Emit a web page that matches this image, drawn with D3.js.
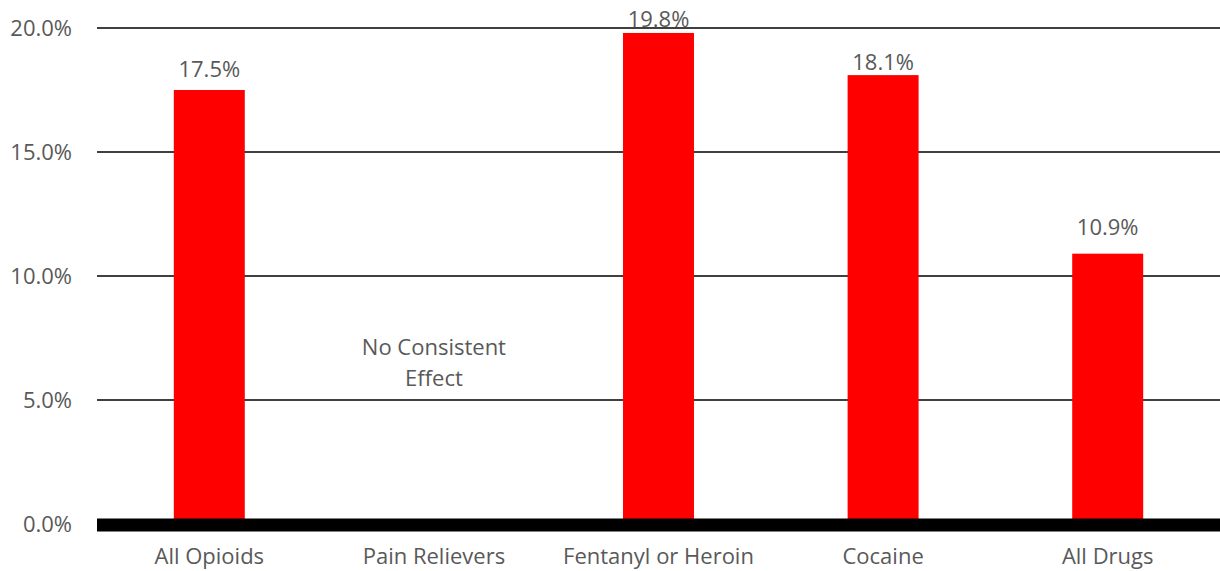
<!DOCTYPE html>
<html><head><meta charset="utf-8">
<script src="https://cdn.jsdelivr.net/npm/d3@7"></script>
<style>body{margin:0;background:#fff;} text{font-family:"Open Sans",sans-serif;}</style>
</head><body><svg id="c" width="1220" height="571"></svg>
<script>
const categories = ["All Opioids","Pain Relievers","Fentanyl or Heroin","Cocaine","All Drugs"];
const values = [17.5, null, 19.8, 18.1, 10.9];
const valueLabels = ["17.5%", "", "19.8%", "18.1%", "10.9%"];
const noteLines = ["No Consistent", "Effect"];
const yTicks = [0, 5, 10, 15, 20];

(function(){
const svg = d3.select("#c");
const mLeft = 97, mRight = 1220, mTop = 28, mBottom = 524;
const x = d3.scaleBand().domain(categories).range([mLeft, mRight]).padding(0);
const y = d3.scaleLinear().domain([0, 20]).range([mBottom, mTop]);
const barW = x.bandwidth() * 0.316;
const grey = "#595959";
const fs = 22;
// gap between each value label's baseline and its bar top (layout only)
const labelGap = [13, 0, 6, 5, 19];

svg.append("g").selectAll("line").data(yTicks.filter(d => d > 0)).join("line")
  .attr("x1", mLeft).attr("x2", mRight).attr("y1", d => y(d)).attr("y2", d => y(d))
  .attr("stroke", "#000").attr("stroke-width", 1.5);

const yAxis = d3.axisLeft(y).tickValues(yTicks).tickFormat(d => d3.format(".1f")(d) + "%").tickSize(0).tickPadding(25);
const gy = svg.append("g").attr("transform", `translate(${mLeft},0)`).call(yAxis);
gy.select(".domain").remove();
gy.selectAll("text").attr("fill", grey).style("font-size", fs + "px").style("font-family", '"Open Sans",sans-serif');

const data = categories.map((c, i) => ({c, v: values[i], l: valueLabels[i], g: labelGap[i]}));
svg.append("g").selectAll("rect").data(data.filter(d => d.v != null)).join("rect")
  .attr("x", d => x(d.c) + x.bandwidth() / 2 - barW / 2)
  .attr("width", barW)
  .attr("y", d => y(d.v)).attr("height", d => y(0) - y(d.v))
  .attr("fill", "#ff0000");

svg.append("g").selectAll("text").data(data.filter(d => d.v != null)).join("text")
  .attr("x", d => x(d.c) + x.bandwidth() / 2)
  .attr("y", d => y(d.v) - d.g)
  .attr("text-anchor", "middle").attr("fill", grey).style("font-size", fs + "px")
  .text(d => d.l);

svg.append("line").attr("x1", mLeft).attr("x2", mRight).attr("y1", y(0) + 1).attr("y2", y(0) + 1)
  .attr("stroke", "#000").attr("stroke-width", 13);

const xAxis = d3.axisBottom(x).tickSize(0).tickPadding(0);
const gx = svg.append("g").attr("transform", `translate(0,${mBottom})`).call(xAxis);
gx.select(".domain").remove();
gx.selectAll("text").attr("y", 40).attr("dy", 0).attr("fill", grey).style("font-size", fs + "px").style("font-family", '"Open Sans",sans-serif');

svg.append("g").selectAll("text").data(noteLines).join("text")
  .attr("x", x("Pain Relievers") + x.bandwidth() / 2)
  .attr("y", (d, i) => 355 + i * 31)
  .attr("text-anchor", "middle").attr("fill", grey).style("font-size", fs + "px")
  .text(d => d);
})();
</script></body></html>
